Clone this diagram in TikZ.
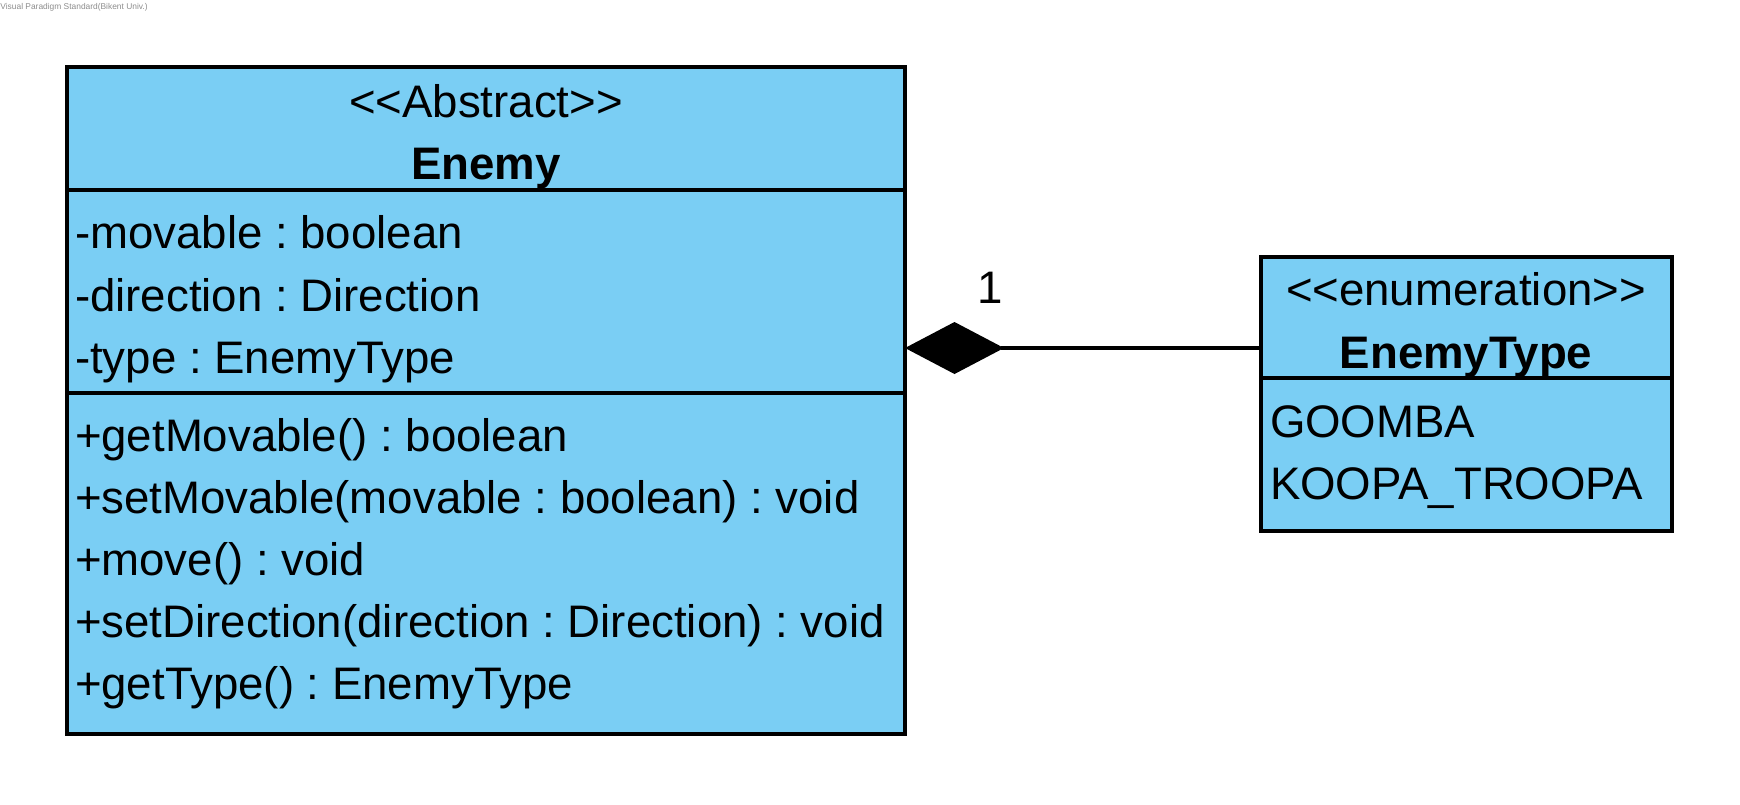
\documentclass[tikz,border=0pt]{standalone}
\usepackage{fontspec}
\setmainfont{Liberation Sans}
\usetikzlibrary{arrows.meta}
\definecolor{umlblue}{RGB}{122,206,244}
\definecolor{wmgray}{RGB}{140,140,140}
\frenchspacing
\begin{document}
\begin{tikzpicture}[x=0.5pt,y=-0.5pt,
  umlbox/.style={draw=black, fill=umlblue, line width=2pt, rectangle, outer sep=0pt, inner sep=0pt, anchor=north west},
  sepline/.style={line width=2pt},
  txt/.style={inner sep=0pt, outer sep=0pt, font=\fontsize{22.8}{27}\selectfont},
  lefttxt/.style={txt, anchor=base west},
  midtxt/.style={txt, anchor=base},
  compo/.style={line width=1.6pt, line join=miter, {Diamond[length=49.5pt,width=26pt]}-}
]
\useasboundingbox (0,0) rectangle (1740,804);

% watermark
\node[inner sep=0pt, anchor=base west, text=wmgray, font=\fontsize{4.2}{5}\selectfont] (wm) at (0,9) {Visual Paradigm Standard(Bikent Univ.)};

% Enemy class
\node[umlbox, minimum width=419pt, minimum height=333.5pt] (enemy) at (67,67) {};
\draw[sepline] (67,190) -- (905,190);
\draw[sepline] (67,393) -- (905,393);
\node[midtxt] (st1) at (486,117) {<{}<Abstract>{}>};
\node[midtxt, font=\fontsize{22.8}{27}\selectfont\bfseries] (n1) at (486,179) {Enemy};
\node[lefttxt] (a1) at (75,248) {-movable : boolean};
\node[lefttxt] (a2) at (75,311) {-direction : Direction};
\node[lefttxt] (a3) at (75,373) {-type : EnemyType};
\node[lefttxt] (m1) at (75,451) {+getMovable() : boolean};
\node[lefttxt] (m2) at (75,513) {+setMovable(movable : boolean) : void};
\node[lefttxt] (m3) at (75,575) {+move() : void};
\node[lefttxt] (m4) at (75,637) {+setDirection(direction : Direction) : void};
\node[lefttxt] (m5) at (75,699) {+getType() : EnemyType};

% EnemyType enumeration
\node[umlbox, minimum width=205.5pt, minimum height=137pt] (etype) at (1261,257) {};
\draw[sepline] (1261,378) -- (1672,378);
\node[midtxt] (st2) at (1466,305) {<{}<enumeration>{}>};
\node[midtxt, font=\fontsize{22.8}{27}\selectfont\bfseries] (n2) at (1466,368) {EnemyType};
\node[lefttxt] (e1) at (1270,437) {GOOMBA};
\node[lefttxt] (e2) at (1270,499) {KOOPA\_TROOPA};

% composition
\coordinate (cy) at (0,348);
\draw[compo] (enemy.east |- cy) -- (etype.west |- cy);
\node[midtxt] (mult) at (990,303) {1};
\end{tikzpicture}
\end{document}
